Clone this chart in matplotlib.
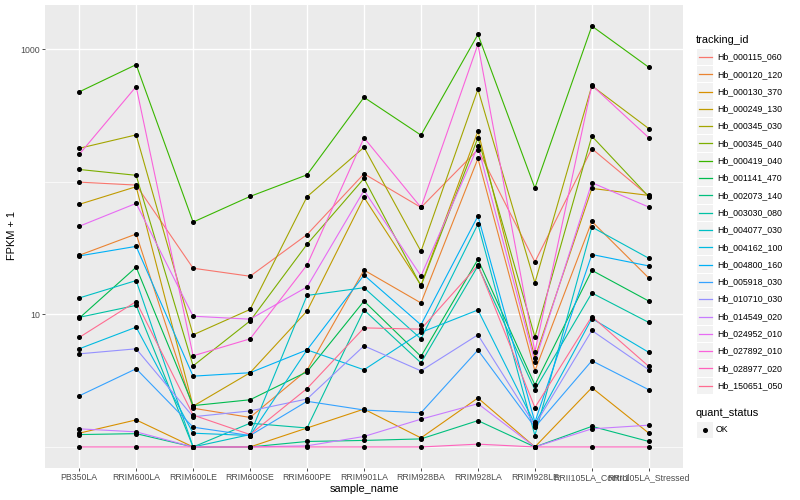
"""
FPKM + 1 per sample for 20 tracking ids (ggplot-style line chart, log y)
"""

import numpy as np
import matplotlib
matplotlib.use("Agg")
import matplotlib.pyplot as plt
from matplotlib.lines import Line2D
from matplotlib.patches import Rectangle
from matplotlib.ticker import FixedLocator, NullFormatter

plt.rcParams["font.family"] = ["Liberation Sans", "DejaVu Sans"]

samples = ["PB350LA", "RRIM600LA", "RRIM600LE", "RRIM600SE", "RRIM600PE",
           "RRIM901LA", "RRIM928BA", "RRIM928LA", "RRIM928LE",
           "RRII105LA_Control", "RRII105LA_Stressed"]

tracking_ids = ["Hb_000115_060", "Hb_000120_120", "Hb_000130_370", "Hb_000249_130",
                "Hb_000345_030", "Hb_000345_040", "Hb_000419_040", "Hb_001141_470",
                "Hb_002073_140", "Hb_003030_080", "Hb_004077_030", "Hb_004162_100",
                "Hb_004800_160", "Hb_005918_030", "Hb_010710_030", "Hb_014549_020",
                "Hb_024952_010", "Hb_027892_010", "Hb_028977_020", "Hb_150651_050"]

# FPKM + 1, one value per sample
hb_000115_060 = [99.5, 94.5, 22.3, 19.4, 40.0, 115, 64.1, 175, 24.9, 178, 78]
hb_000120_120 = [27.9, 40.4, 1.96, 1.67, 3.80, 21.6, 12.2, 150, 3.75, 50.3, 18.8]
hb_000130_370 = [1.27, 1.60, 1.0, 1.0, 1.39, 1.93, 1.17, 2.34, 1.0, 2.80, 1.27]
hb_000249_130 = [67.6, 91.9, 2.03, 3.63, 10.6, 76.3, 16.6, 241, 4.70, 89.2, 79]
hb_000345_030 = [179, 226, 7.01, 10.9, 77.2, 182, 29.9, 499, 17.3, 530, 252]
hb_000345_040 = [124, 112, 4.09, 8.93, 33.8, 106, 16.4, 215, 6.77, 221, 77.2]
hb_000419_040 = [477, 766, 49.7, 77.6, 113, 434, 225, 1294, 89.7, 1497, 731]
hb_001141_470 = [9.36, 22.7, 2.05, 2.27, 3.69, 12.6, 4.82, 26.0, 2.94, 21.5, 12.6]
hb_002073_140 = [1.24, 1.26, 1.0, 1.0, 1.10, 1.12, 1.15, 1.58, 1.0, 1.43, 1.10]
hb_003030_080 = [9.5, 11.7, 1.0, 1.51, 1.39, 10.8, 4.31, 23.2, 2.70, 14.5, 8.69]
hb_004077_030 = [13.3, 18.0, 1.0, 1.24, 13.9, 15.9, 6.54, 48.0, 1.22, 45.6, 26.5]
hb_004162_100 = [5.50, 8.01, 1.27, 1.22, 5.40, 3.82, 7.31, 10.8, 1.49, 9.31, 5.17]
hb_004800_160 = [27.6, 32.6, 3.42, 3.63, 5.40, 19.8, 8.34, 55.2, 1.54, 28.3, 23.2]
hb_005918_030 = [2.43, 3.89, 1.41, 1.22, 2.21, 1.90, 1.81, 5.38, 1.41, 4.47, 2.70]
hb_010710_030 = [5.04, 5.50, 1.69, 1.87, 2.30, 5.79, 3.75, 7.01, 1.46, 7.56, 3.82]
hb_014549_020 = [1.37, 1.30, 1.0, 1.0, 1.02, 1.20, 1.62, 2.12, 1.0, 1.37, 1.46]
hb_024952_010 = [46.2, 68.8, 9.69, 9.2, 16.1, 86.1, 19.5, 185, 4.39, 98.5, 64.5]
hb_027892_010 = [161, 523, 4.87, 6.54, 23.6, 215, 64.1, 1089, 5.22, 535, 215]
hb_028977_020 = [1.0, 1.0, 1.0, 1.0, 1.0, 1.0, 1.0, 1.05, 1.0, 1.0, 1.0]
hb_150651_050 = [6.70, 12.5, 1.74, 1.24, 2.76, 7.91, 7.74, 23.5, 1.98, 9.64, 4.05]

series = [hb_000115_060, hb_000120_120, hb_000130_370, hb_000249_130,
          hb_000345_030, hb_000345_040, hb_000419_040, hb_001141_470,
          hb_002073_140, hb_003030_080, hb_004077_030, hb_004162_100,
          hb_004800_160, hb_005918_030, hb_010710_030, hb_014549_020,
          hb_024952_010, hb_027892_010, hb_028977_020, hb_150651_050]

# ggplot2 default hue palette for 20 levels
colors = ["#F8766D", "#EA8331", "#D89000", "#C09B00", "#A3A500", "#7CAE00",
          "#39B600", "#00BB4E", "#00BF7D", "#00C1A3", "#00BFC4", "#00BAE0",
          "#00B0F6", "#35A2FF", "#9590FF", "#C77CFF", "#E76BF3", "#FA62DB",
          "#FF62BC", "#FF6C91"]

W, H = 800, 500
fig = plt.figure(figsize=(8, 5), dpi=100)
# panel in pixel coords: x 45..683, y 5..468
ax = fig.add_axes([45 / W, 1 - 468 / H, (683 - 45) / W, (468 - 5) / H])
ax.set_facecolor("#EBEBEB")
for s in ax.spines.values():
    s.set_visible(False)

x = np.arange(len(samples))
for vals, c in zip(series, colors):
    ax.plot(x, vals, color=c, lw=0.8, zorder=2, solid_capstyle="butt")
for vals in series:
    ax.plot(x, vals, ls="none", marker="o", ms=2.6, color="black", zorder=3)

ax.set_yscale("log")
allv = np.concatenate([np.asarray(v, dtype=float) for v in series])
lo, hi = np.log10(allv.min()), np.log10(allv.max())
r = hi - lo
ax.set_ylim(10 ** (lo - 0.05 * r), 10 ** (hi + 0.05 * r))
ax.set_xlim(-0.6, len(samples) - 0.4)

ax.yaxis.set_major_locator(FixedLocator([10, 1000]))
ax.set_yticklabels(["10", "1000"])
ax.yaxis.set_minor_locator(FixedLocator([1, 100]))
ax.yaxis.set_minor_formatter(NullFormatter())
ax.set_xticks(x)
ax.set_xticklabels(samples)

ax.grid(True, which="major", color="white", lw=1.0, zorder=0)
ax.grid(True, which="minor", axis="y", color="white", lw=0.5, zorder=0)
ax.set_axisbelow(True)
ax.tick_params(which="major", length=2.2, width=0.6, color="#333333",
               labelcolor="#4D4D4D", labelsize=6.3, pad=1.5)
ax.tick_params(which="minor", length=0)

fig.text(364 / W, 1 - 489 / H, "sample_name", ha="center", va="center",
         fontsize=7.9, color="black")
fig.text(12 / W, 1 - 236 / H, "FPKM + 1", ha="center", va="center",
         rotation=90, fontsize=7.9, color="black")

# legend, drawn by hand in figure pixel coords
def px(xp, yp):
    return xp / W, 1 - yp / H

fig.text(*px(696, 40), "tracking_id", ha="left", va="center", fontsize=7.9)
key_w, key_h, step = 16, 16.3, 17.3
for i, (tid, c) in enumerate(zip(tracking_ids, colors)):
    yc = 57 + i * step
    fig.add_artist(Rectangle(px(697, yc + key_h / 2), key_w / W, key_h / H,
                             transform=fig.transFigure, facecolor="#F2F2F2",
                             edgecolor="none"))
    fig.add_artist(Line2D([698.5 / W, 711.5 / W], [1 - yc / H] * 2,
                          transform=fig.transFigure, color=c, lw=0.9))
    fig.text(*px(717, yc), tid, ha="left", va="center", fontsize=6.3)

fig.text(*px(696, 413), "quant_status", ha="left", va="center", fontsize=7.9)
fig.add_artist(Rectangle(px(697, 430 + key_h / 2), key_w / W, key_h / H,
                         transform=fig.transFigure, facecolor="#F2F2F2",
                         edgecolor="none"))
fig.add_artist(Line2D([705 / W], [1 - 430 / H], transform=fig.transFigure,
                      ls="none", marker="o", ms=2.6, color="black"))
fig.text(*px(716, 430), "OK", ha="left", va="center", fontsize=6.3)

fig.savefig("out.png", dpi=100)
plt.close(fig)
